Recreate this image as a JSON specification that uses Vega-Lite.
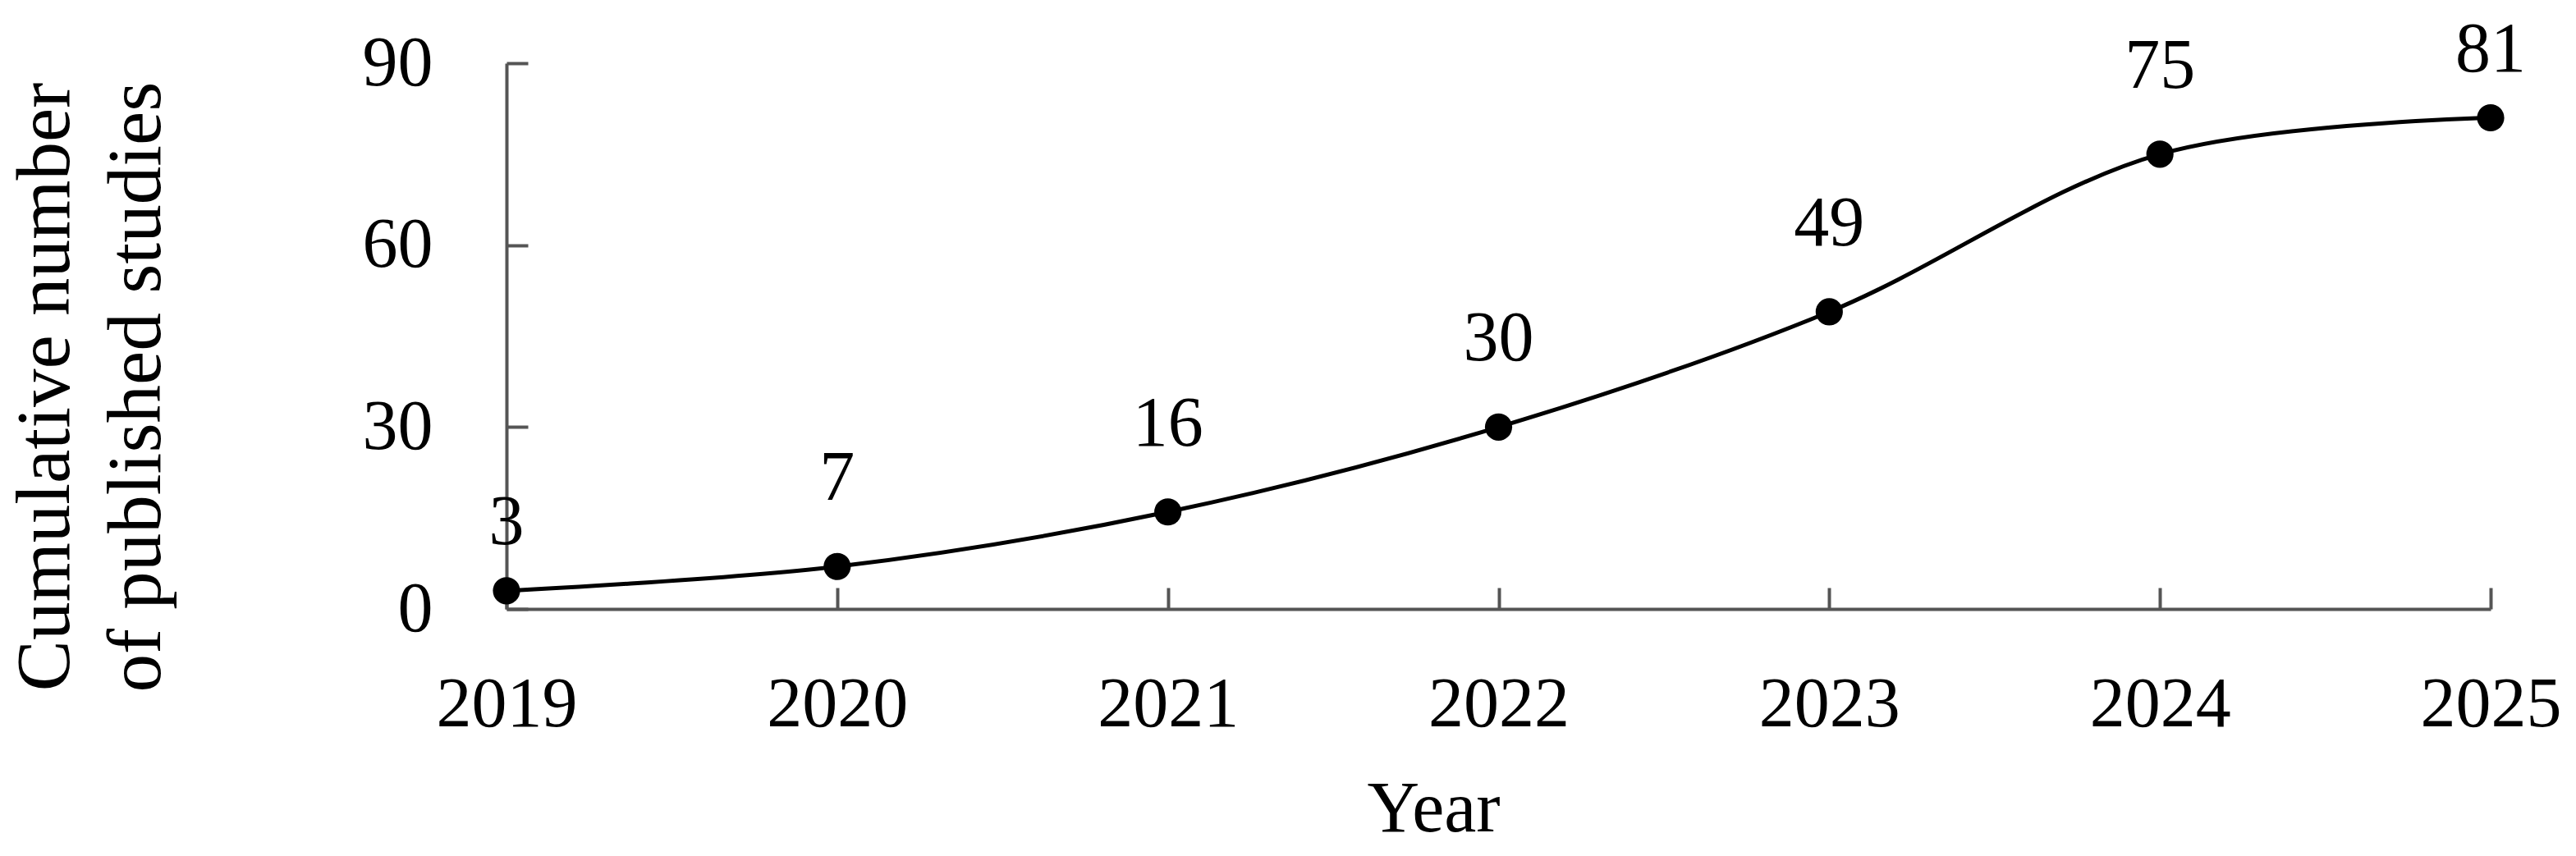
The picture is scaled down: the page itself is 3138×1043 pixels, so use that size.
{
  "$schema": "https://vega.github.io/schema/vega-lite/v6.json",
  "width": 2417,
  "height": 665,
  "autosize": {"type": "none"},
  "padding": {"left": 617, "top": 77, "right": 104, "bottom": 301},
  "background": "white",
  "data": {
    "values": [
      {"year": 2019, "n": 3},
      {"year": 2020, "n": 7},
      {"year": 2021, "n": 16},
      {"year": 2022, "n": 30},
      {"year": 2023, "n": 49},
      {"year": 2024, "n": 75},
      {"year": 2025, "n": 81}
    ]
  },
  "config": {
    "view": {"stroke": null},
    "font": "Liberation Serif",
    "axis": {
      "grid": false,
      "domainColor": "#555555",
      "domainWidth": 4,
      "tickColor": "#555555",
      "tickWidth": 4,
      "tickSize": -26,
      "labelFont": "Liberation Serif",
      "labelFontSize": 86,
      "labelColor": "black",
      "titleFont": "Liberation Serif",
      "titleFontSize": 88,
      "titleFontWeight": "normal",
      "titleColor": "black"
    }
  },
  "encoding": {
    "x": {
      "field": "year",
      "type": "quantitative",
      "scale": {"domain": [2019, 2025], "nice": false, "zero": false},
      "axis": {
        "values": [2019, 2020, 2021, 2022, 2023, 2024, 2025],
        "format": "d",
        "labelPadding": 100,
        "labelFlush": false,
        "labelOverlap": false,
        "title": "Year",
        "titleX": 1129,
        "titleY": 270,
        "titleBaseline": "alphabetic",
        "titleAnchor": null
      }
    },
    "y": {
      "field": "n",
      "type": "quantitative",
      "scale": {"domain": [0, 90], "nice": false},
      "axis": {
        "values": [0, 30, 60, 90],
        "labelPadding": 116,
        "labelFlush": false,
        "labelOverlap": false,
        "title": ["Cumulative number", "of published studies"],
        "titleFontSize": 93,
        "titleAngle": -90,
        "titleX": -534,
        "titleY": 394,
        "titleAlign": "center",
        "titleBaseline": "alphabetic",
        "titleLineHeight": 111,
        "titleAnchor": null
      }
    }
  },
  "layer": [
    {
      "mark": {"type": "line", "color": "black", "strokeWidth": 5, "interpolate": "catmull-rom"}
    },
    {
      "mark": {"type": "point", "filled": true, "color": "black", "opacity": 1, "size": 1100}
    },
    {
      "transform": [{"filter": "datum.year > 2019 && datum.year < 2025"}],
      "mark": {"type": "text", "fontSize": 86, "color": "black", "dy": -107, "baseline": "middle"},
      "encoding": {"text": {"field": "n", "type": "quantitative"}}
    },
    {
      "transform": [{"filter": "datum.year == 2019 || datum.year == 2025"}],
      "mark": {"type": "text", "fontSize": 86, "color": "black", "dy": -83, "baseline": "middle"},
      "encoding": {"text": {"field": "n", "type": "quantitative"}}
    }
  ]
}
